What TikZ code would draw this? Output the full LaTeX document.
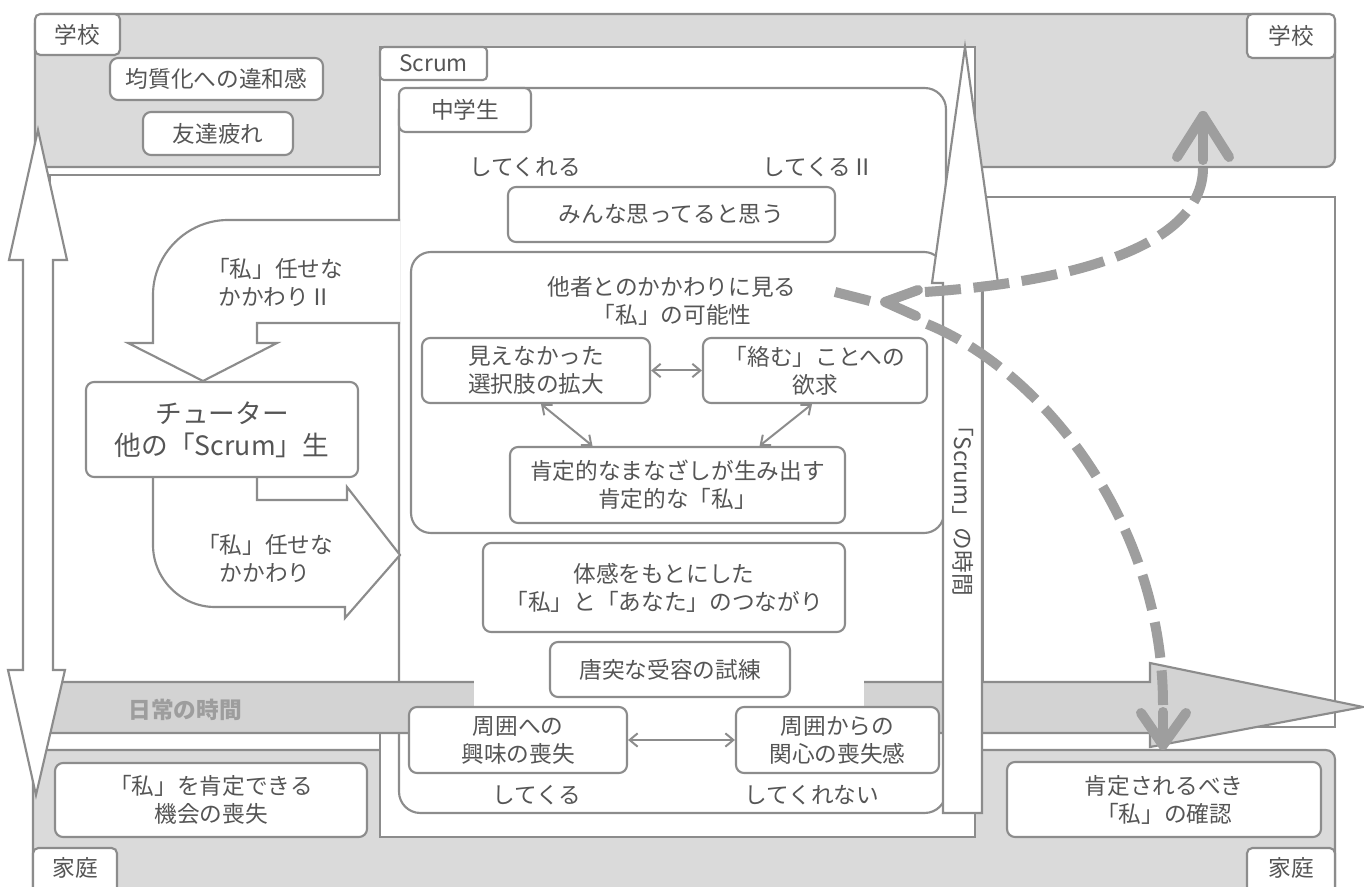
\documentclass[tikz,border=0pt]{standalone}
\usepackage{fontspec}
\setmainfont{Noto Sans CJK JP}
\usetikzlibrary{arrows.meta,fit,calc}
\definecolor{ln}{HTML}{8C8C8C}
\definecolor{tx}{HTML}{555555}
\definecolor{rg}{HTML}{DADADA}
\definecolor{bandc}{HTML}{D3D3D3}
\definecolor{dsh}{HTML}{9E9E9E}
\newcommand{\jtext}{\fontsize{17}{21}\selectfont}
\newcommand{\jbig}{\fontsize{20}{24}\selectfont}
\tikzset{
 region/.style={draw=ln, line width=1.6pt, fill=rg, rounded corners=7pt, inner sep=0pt},
 plain/.style={draw=ln, line width=1.6pt, fill=white, inner sep=0pt},
 box/.style={draw=ln, line width=1.6pt, fill=white, rounded corners=6pt, inner sep=0pt, align=center, font=\jtext, text=tx},
 lbl/.style={text=tx, font=\jtext, align=center, inner sep=0pt},
 bigarrow/.style={draw=ln, line width=1.6pt, fill=white, line join=miter},
 dbl/.style={draw=ln, line width=1.5pt, {Straight Barb[length=6pt,width=10pt]}-{Straight Barb[length=6pt,width=10pt]}},
 dashline/.style={draw=dsh, line width=7.5pt, dash pattern=on 27pt off 9.5pt},
 headline/.style={draw=dsh, line width=7.5pt, line cap=round, line join=round},
}
\begin{document}
\begin{tikzpicture}[x=0.75pt,y=-0.75pt]
\useasboundingbox (0,0) rectangle (1364,887);
\fill[white] (0,0) rectangle (1364,887);
% regions
\node[region, fit={(35,14)(1335,167)}] (school) {};
\node[region, fit={(33,750)(1335,910)}] (home) {};
\node[plain, fit={(380,47)(975,837)}] (scrum) {};
\fill[white] (52,175) rectangle (399,683);
\draw[draw=ln, line width=1.6pt] (50,683) -- (50,175) -- (380,175);
\node[plain, fit={(983,197)(1335,727)}] (rmid) {};
\node[plain, rounded corners=16pt, fit={(399,88)(946,813)}] (jhs) {};
% labels
\node[box, rounded corners=4pt, minimum width=63.75pt, minimum height=30.75pt] (schoolL) at (77.5,34.5) {学校};
\node[box, rounded corners=4pt, minimum width=66pt, minimum height=33pt] (schoolR) at (1291,36) {学校};
\node[box, rounded corners=4pt, fit={(33,848)(117,900)}] (homeLb) {};
\node[lbl] (homeL) at (75,868) {家庭};
\node[box, rounded corners=4pt, fit={(1247,848)(1335,900)}] (homeRb) {};
\node[lbl] (homeR) at (1291,868) {家庭};
\node[box, rounded corners=3pt, minimum width=80.25pt, minimum height=24.75pt] (scrumL) at (433.5,63.5) {Scrum};
\node[box, rounded corners=5pt, minimum width=99pt, minimum height=33pt] (jhsL) at (465,110) {中学生};
\node[box, minimum width=159.75pt, minimum height=31.5pt] (kinshitsu) at (216.5,79) {均質化への違和感};
\node[box, minimum width=112.5pt, minimum height=32.25pt] (tomodachi) at (218,133.5) {友達疲れ};
% inside junior high box
\node[lbl] (kureru) at (525,167) {してくれる};
\node[lbl] (kuru2) at (818,167) {してくるⅡ};
\node[box, minimum width=245.25pt, minimum height=41.25pt] (minna) at (671.5,214.5) {みんな思ってると思う};
\node[plain, rounded corners=15pt, fit={(411,252)(944,533)}] (tasha) {};
\node[lbl] (tashat) at (672,301) {他者とのかかわりに見る\\「私」の可能性};
\node[box, minimum width=171pt, minimum height=48.75pt] (mienai) at (536,370.5) {見えなかった\\選択肢の拡大};
\node[box, minimum width=168pt, minimum height=48.75pt] (karamu) at (815,370.5) {「絡む」ことへの\\欲求};
\node[box, minimum width=251.25pt, minimum height=57pt] (kotei) at (677.5,485) {肯定的なまなざしが生み出す\\肯定的な「私」};
\draw[dbl] (mienai) -- (karamu);
\draw[dbl] ($(mienai.south)+(5,0)$) -- ($(kotei.north)+(-85,0)$);
\draw[dbl] ($(karamu.south)+(-3,0)$) -- ($(kotei.north)+(82,0)$);
\node[box, minimum width=271.5pt, minimum height=66.75pt] (taikan) at (664,587.5) {体感をもとにした\\「私」と「あなた」のつながり};
% daily time band
\draw[draw=ln, line width=1.6pt, fill=bandc] (45,682) -- (1150,682) -- (1150,663) -- (1363,707) -- (1150,747) -- (1150,733) -- (45,733) -- cycle;
\fill[white] (474,678) rectangle (864,742);
\node[lbl, font=\jtext\bfseries, text=ln!85] (nichijo) at (185,710) {日常の時間};
\node[box, minimum width=180pt, minimum height=41.25pt] (totsu) at (670,669.5) {唐突な受容の試練};
\node[box, minimum width=163.5pt, minimum height=49.5pt] (shui1) at (518,740) {周囲への\\興味の喪失};
\node[box, minimum width=152.25pt, minimum height=49.5pt] (shui2) at (837.5,740) {周囲からの\\関心の喪失感};
\draw[dbl] (shui1) -- (shui2);
\node[lbl] (kuru) at (537,795) {してくる};
\node[lbl] (kurenai) at (812,795) {してくれない};
% Scrum time arrow
\draw[bigarrow] (965,47) -- (998,283) -- (982,283) -- (982,813) -- (943,813) -- (943,283) -- (932,283) -- cycle;
\node[lbl, rotate=-90] (scrumtime) at (963,505) {「Scrum」の時間};
% left vertical double arrow
\draw[bigarrow] (38,130) -- (67,260) -- (53,260) -- (53,670) -- (65,670) -- (36,795) -- (8,670) -- (23,670) -- (23,260) -- (9,260) -- cycle;
% U arrows
\draw[bigarrow] (400,220) -- (228,220) .. controls (187,220) and (153,254) .. (153,295) -- (153,343) -- (128,343) -- (203,381) -- (277,343) -- (257,343) -- (257,323) -- (400,323);
\node[lbl] (makase2) at (275,282) {「私」任せな\\かかわりⅡ};
\draw[bigarrow] (153,477) -- (153,545) .. controls (153,579) and (181,607) .. (215,607) -- (345,607) -- (345,618) -- (400,555) -- (347,487) -- (347,500) -- (257,500) -- (257,477);
\node[lbl] (makase1) at (265,558) {「私」任せな\\かかわり};
\node[box, font=\jbig, minimum width=204pt, minimum height=71.25pt] (tutor) at (222,429.5) {チューター\\他の「Scrum」生};
% bottom boxes
\node[box, minimum width=234pt, minimum height=55.5pt] (kikai) at (211,800) {「私」を肯定できる\\機会の喪失};
\node[box, minimum width=235.5pt, minimum height=56.25pt] (kakunin) at (1164,799.5) {肯定されるべき\\「私」の確認};
% dashed arrows
\coordinate (a0) at (925,292);
\coordinate (a1) at (1203,168);
\coordinate (aT) at (1203,116);
\coordinate (aL) at (885,302);
\draw[dashline] (a0) .. controls (1060,283) and (1203,250) .. (a1);
\draw[headline] (1177,157) -- (aT) -- (1229,157);
\draw[headline] (1203,160) -- (aT);
\draw[headline] (918,290) -- (aL) -- (916,316);
\coordinate (b0) at (835,292);
\coordinate (b1) at (870,301);
\coordinate (b2) at (927,324);
\coordinate (b3) at (1163,705);
\coordinate (bT) at (1163,745);
\draw[draw=dsh, line width=7.5pt] (b0) -- (b1);
\draw[dashline] (b2) .. controls (1040,370) and (1163,520) .. (b3);
\draw[headline] (1141,713) -- (bT) -- (1186,713);
\draw[headline] (1163,712) -- (bT);
\end{tikzpicture}
\end{document}
